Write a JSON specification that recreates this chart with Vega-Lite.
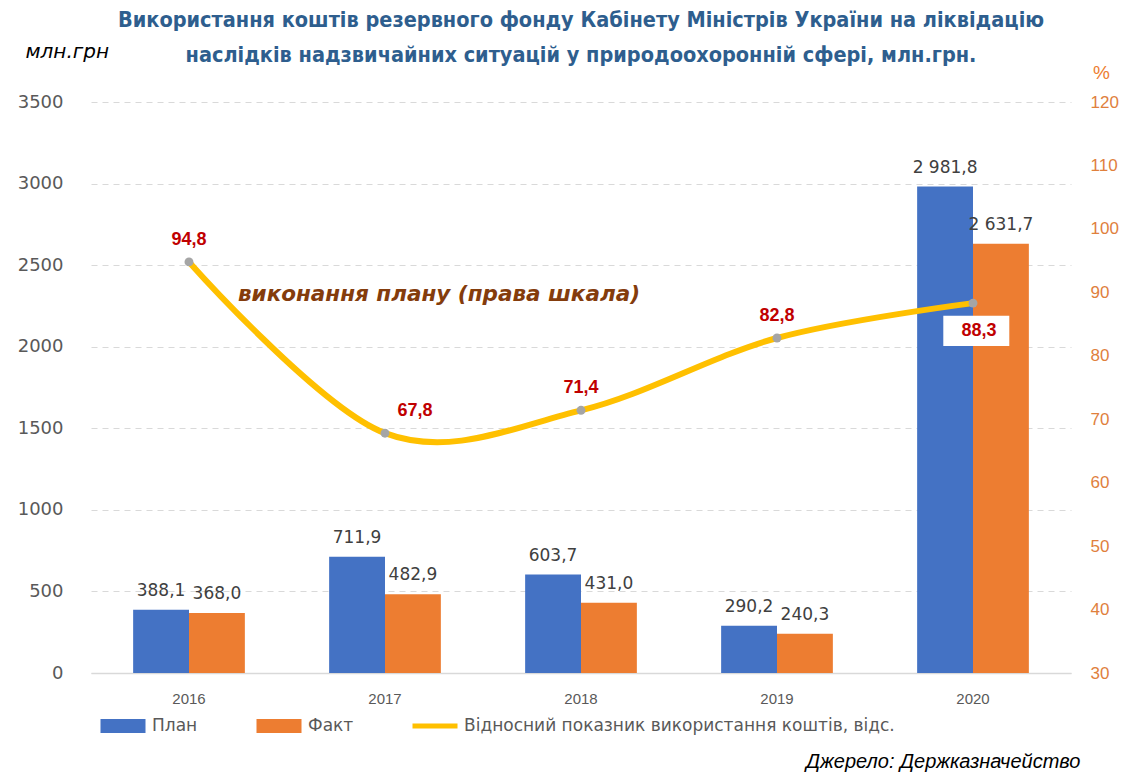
{
  "$schema": "https://vega.github.io/schema/vega-lite/v6.json",
  "width": 980,
  "height": 571,
  "autosize": {"type": "none"},
  "padding": {"left": 91, "top": 102, "right": 55, "bottom": 99},
  "background": "white",
  "config": {
    "view": {"stroke": null},
    "font": "Liberation Sans",
    "locale": {"number": {"decimal": ",", "thousands": " ", "grouping": [3], "currency": ["", " ₴"]}}
  },
  "title": {
    "text": ["Використання коштів резервного фонду Кабінету Міністрів України на ліквідацію", "наслідків надзвичайних ситуацій у природоохоронній сфері, млн.грн."],
    "font": "Liberation Sans Narrow, DejaVu Sans Condensed, sans-serif",
    "fontSize": 21.5,
    "fontWeight": "bold",
    "color": "#2E5E8E",
    "anchor": "middle",
    "frame": "group",
    "lineHeight": 35,
    "offset": -25
  },
  "datasets": {
    "bars": [
      {"year": "2016", "series": "План", "amount": 388.1},
      {"year": "2016", "series": "Факт", "amount": 368.0},
      {"year": "2017", "series": "План", "amount": 711.9},
      {"year": "2017", "series": "Факт", "amount": 482.9},
      {"year": "2018", "series": "План", "amount": 603.7},
      {"year": "2018", "series": "Факт", "amount": 431.0},
      {"year": "2019", "series": "План", "amount": 290.2},
      {"year": "2019", "series": "Факт", "amount": 240.3},
      {"year": "2020", "series": "План", "amount": 2981.8},
      {"year": "2020", "series": "Факт", "amount": 2631.7}
    ],
    "pct": [
      {"year": "2016", "pct": 94.8},
      {"year": "2017", "pct": 67.8},
      {"year": "2018", "pct": 71.4},
      {"year": "2019", "pct": 82.8},
      {"year": "2020", "pct": 88.3}
    ],
    "note": [
      {"year": "2017", "pct": 89.6, "note": "виконання плану (права шкала)"}
    ]
  },
  "encoding": {
    "x": {
      "field": "year",
      "type": "nominal",
      "scale": {"paddingInner": 0.43, "paddingOuter": 0.215},
      "axis": {
        "title": "Джерело: Держказначейство",
        "titleFontStyle": "italic",
        "titleFontWeight": "normal",
        "titleFontSize": 20,
        "titleColor": "#000000",
        "titleAlign": "right",
        "titleBaseline": "bottom",
        "titleX": 989,
        "titleY": 98,
        "labelAngle": 0,
        "labelFontSize": 15,
        "labelColor": "#595959",
        "labelPadding": 18,
        "ticks": false,
        "domain": true,
        "domainColor": "#D9D9D9",
        "domainWidth": 1.5
      }
    }
  },
  "layer": [
    {
      "data": {"name": "bars"},
      "encoding": {
        "xOffset": {"field": "series", "type": "nominal", "scale": {"paddingInner": 0, "paddingOuter": 0}, "sort": ["План", "Факт"]},
        "y": {
          "field": "amount",
          "type": "quantitative",
          "scale": {"domain": [0, 3500], "nice": false},
          "axis": {
            "orient": "left",
            "values": [0, 500, 1000, 1500, 2000, 2500, 3000, 3500],
            "format": "d",
            "title": "млн.грн",
            "titleAngle": 0,
            "titleAlign": "left",
            "titleBaseline": "alphabetic",
            "titleX": -66,
            "titleY": -45,
            "titleFont": "DejaVu Sans",
            "titleFontStyle": "italic",
            "titleFontWeight": "normal",
            "titleFontSize": 20,
            "titleColor": "#000000",
            "labelFont": "DejaVu Sans",
            "labelFontSize": 18,
            "labelColor": "#595959",
            "labelPadding": 28,
            "domain": false,
            "ticks": false,
            "grid": true,
            "gridColor": "#D9D9D9",
            "gridDash": [6, 5],
            "gridWidth": 1
          }
        }
      },
      "layer": [
        {
          "mark": {"type": "bar"},
          "encoding": {
            "color": {
              "field": "series",
              "type": "nominal",
              "scale": {"domain": ["План", "Факт", "Відносний показник використання коштів, відс."], "range": ["#4472C4", "#ED7D31", "#FFC000"]},
              "legend": {
                "title": null,
                "orient": "none",
                "direction": "horizontal",
                "legendX": 17,
                "legendY": 609,
                "labelFontSize": 17,
                "labelColor": "#595959",
                "labelFont": "DejaVu Sans",
                "symbolSize": 900,
                "symbolStrokeWidth": 0,
                "columnPadding": 58,
                "labelOffset": 14,
                "labelLimit": 600,
                "encode": {
                  "symbols": {
                    "update": {
                      "shape": {"signal": "datum.index < 2 ? 'M-1.5,-0.47H1.5V0.47H-1.5Z' : 'M-1.5,-0.17H1.5V0.17H-1.5Z'"},
                      "opacity": {"value": 1}
                    }
                  }
                }
              }
            }
          }
        },
        {
          "mark": {"type": "text", "baseline": "bottom", "dy": -10, "fontSize": 17, "color": "#404040", "font": "DejaVu Sans"},
          "encoding": {
            "text": {"field": "amount", "type": "quantitative", "format": ",.1f"}
          }
        }
      ]
    },
    {
      "encoding": {
        "y": {
          "field": "pct",
          "type": "quantitative",
          "scale": {"domain": [30, 120], "nice": false},
          "axis": {
            "orient": "right",
            "values": [30, 40, 50, 60, 70, 80, 90, 100, 110, 120],
            "title": "%",
            "titleAngle": 0,
            "titleAlign": "center",
            "titleBaseline": "alphabetic",
            "titleX": 30,
            "titleY": -24,
            "titleFontWeight": "normal",
            "titleFontSize": 19,
            "titleColor": "#ED7D31",
            "labelFontSize": 17,
            "labelColor": "#E0803D",
            "labelPadding": 19,
            "domain": false,
            "ticks": false,
            "grid": false
          }
        }
      },
      "layer": [
        {
          "data": {"name": "pct"},
          "mark": {"type": "line", "interpolate": "cardinal", "color": "#FFC000", "strokeWidth": 6, "strokeCap": "round"}
        },
        {
          "data": {"name": "pct"},
          "mark": {"type": "point", "filled": true, "color": "#A5A5A5", "size": 80, "opacity": 1}
        },
        {
          "data": {"name": "pct"},
          "transform": [{"filter": "datum.year === '2020'"}],
          "mark": {"type": "point", "filled": true, "color": "white", "opacity": 1, "size": 4356, "shape": "M-0.9,0.38H1.1V1.3H-0.9Z"}
        },
        {
          "data": {"name": "pct"},
          "transform": [{"filter": "datum.year !== '2017' && datum.year !== '2020'"}],
          "mark": {"type": "text", "baseline": "bottom", "dy": -13, "fontSize": 18, "fontWeight": "bold", "color": "#C00000", "font": "Liberation Sans"},
          "encoding": {"text": {"field": "pct", "type": "quantitative", "format": ".1f"}}
        },
        {
          "data": {"name": "pct"},
          "transform": [{"filter": "datum.year === '2017'"}],
          "mark": {"type": "text", "baseline": "bottom", "dy": -13, "dx": 30, "fontSize": 18, "fontWeight": "bold", "color": "#C00000", "font": "Liberation Sans"},
          "encoding": {"text": {"field": "pct", "type": "quantitative", "format": ".1f"}}
        },
        {
          "data": {"name": "pct"},
          "transform": [{"filter": "datum.year === '2020'"}],
          "mark": {"type": "text", "baseline": "middle", "dy": 28, "dx": 6, "fontSize": 18, "fontWeight": "bold", "color": "#C00000", "font": "Liberation Sans"},
          "encoding": {"text": {"field": "pct", "type": "quantitative", "format": ".1f"}}
        },
        {
          "data": {"name": "note"},
          "mark": {"type": "text", "baseline": "middle", "align": "center", "dx": 54, "fontSize": 21.5, "fontWeight": "bold", "fontStyle": "italic", "color": "#843C0C", "font": "DejaVu Sans"},
          "encoding": {"text": {"field": "note"}}
        }
      ]
    }
  ],
  "resolve": {"scale": {"y": "independent"}}
}
